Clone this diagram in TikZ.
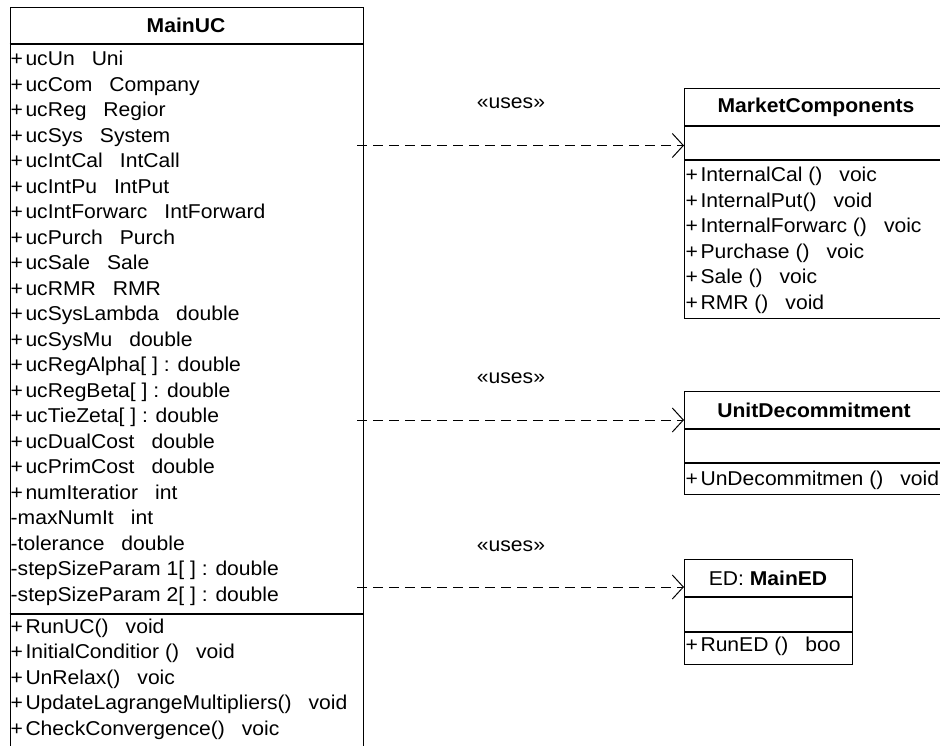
\documentclass[tikz,border=0pt]{standalone}
\usepackage{fontspec}
\setmainfont[FakeStretch=1.055]{Liberation Sans}
\usetikzlibrary{arrows.meta}
\newcommand\colgap{\hspace{0.85em}}
\newcommand\vis[1]{#1\hspace{2.5pt}}
\begin{document}
\begin{tikzpicture}[x=1pt,y=-1pt,
  classbox/.style={draw, line width=1.4pt, rectangle, anchor=north west, inner sep=0pt},
  sepline/.style={line width=1.4pt},
  row/.style={anchor=base west, inner sep=0pt, font=\fontsize{20}{23}\selectfont},
  classtitle/.style={anchor=center, inner sep=0pt, font=\fontsize{20}{23}\selectfont\bfseries},
  uses/.style={dash pattern=on 10pt off 6pt, line width=1pt,
    -{Straight Barb[length=11pt,width=24pt,line width=1pt]}},
  stereo/.style={anchor=center, inner sep=0pt, font=\fontsize{20}{23}\selectfont}]
\useasboundingbox (0,0) rectangle (940,745);
\clip (0,0) rectangle (940,745);

% ---------- class MainUC ----------
\node[classbox, minimum width=353pt, minimum height=760pt] (uc) at (9.5,7) {};
\node[classtitle] (uctitle) at (186,25.5) {MainUC};
\draw[sepline] (uc.west |- 0,44) -- (uc.east |- 0,44);
\draw[sepline] (uc.west |- 0,614) -- (uc.east |- 0,614);
\foreach \t [count=\i from 0] in {
  \vis{+}ucUn\colgap Uni,
  \vis{+}ucCom\colgap Company,
  \vis{+}ucReg\colgap Regior,
  \vis{+}ucSys\colgap System,
  \vis{+}ucIntCal\colgap IntCall,
  \vis{+}ucIntPu\colgap IntPut,
  \vis{+}ucIntForwarc\colgap IntForward,
  \vis{+}ucPurch\colgap Purch,
  \vis{+}ucSale\colgap Sale,
  \vis{+}ucRMR\colgap RMR,
  \vis{+}ucSysLambda\colgap double,
  \vis{+}ucSysMu\colgap double,
  \vis{+}ucRegAlpha[ ] : double,
  \vis{+}ucRegBeta[ ] : double,
  \vis{+}ucTieZeta[ ] : double,
  \vis{+}ucDualCost\colgap double,
  \vis{+}ucPrimCost\colgap double,
  \vis{+}numIteratior\colgap int,
  -maxNumIt\colgap int,
  -tolerance\colgap double,
  -stepSizeParam 1[ ] : double,
  -stepSizeParam 2[ ] : double}
  \node[row] (ucattr\i) at (10.5,65.5+25.5*\i) {\t};
\foreach \t [count=\i from 0] in {
  \vis{+}RunUC()\colgap void,
  \vis{+}InitialConditior ()\colgap void,
  \vis{+}UnRelax()\colgap voic,
  \vis{+}UpdateLagrangeMultipliers()\colgap void,
  \vis{+}CheckConvergence()\colgap voic}
  \node[row] (ucop\i) at (10.5,633+25.5*\i) {\t};

% ---------- class MarketComponents ----------
\node[classbox, minimum width=280pt, minimum height=230pt] (mc) at (684,88) {};
\node[classtitle] (mctitle) at (816,107) {MarketComponents};
\draw[sepline] (mc.west |- 0,126) -- (mc.east |- 0,126);
\draw[sepline] (mc.west |- 0,160) -- (mc.east |- 0,160);
\foreach \t [count=\i from 0] in {
  \vis{+}InternalCal ()\colgap voic,
  \vis{+}InternalPut()\colgap void,
  \vis{+}InternalForwarc ()\colgap voic,
  \vis{+}Purchase ()\colgap voic,
  \vis{+}Sale ()\colgap voic,
  \vis{+}RMR ()\colgap void}
  \node[row] (mcop\i) at (685.5,181.5+25.5*\i) {\t};

% ---------- class UnitDecommitment ----------
\node[classbox, minimum width=280pt, minimum height=103pt] (ud) at (684,391) {};
\node[classtitle] (udtitle) at (814,410) {UnitDecommitment};
\draw[sepline] (ud.west |- 0,429) -- (ud.east |- 0,429);
\draw[sepline] (ud.west |- 0,463) -- (ud.east |- 0,463);
\node[row] (udop0) at (685.5,485) {\vis{+}UnDecommitmen ()\colgap void};

% ---------- object ED ----------
\node[classbox, minimum width=168pt, minimum height=105pt] (ed) at (684,559) {};
\node[classtitle] (edtitle) at (768,578) {\mdseries ED: \bfseries MainED};
\draw[sepline] (ed.west |- 0,597) -- (ed.east |- 0,597);
\draw[sepline] (ed.west |- 0,632) -- (ed.east |- 0,632);
\node[row] (edop0) at (685.5,651) {\vis{+}RunED ()\colgap boo};

% ---------- dependencies ----------
\coordinate (d1) at (357,145.5);
\coordinate (d2) at (357,420);
\coordinate (d3) at (357,587);
\draw[uses] (d1) -- (mc.west |- d1);
\draw[uses] (d2) -- (ud.west |- d2);
\draw[uses] (d3) -- (ed.west |- d3);
\node[stereo] (s1) at (511,103) {«uses»};
\node[stereo] (s2) at (511,378) {«uses»};
\node[stereo] (s3) at (511,546) {«uses»};
\end{tikzpicture}
\end{document}
